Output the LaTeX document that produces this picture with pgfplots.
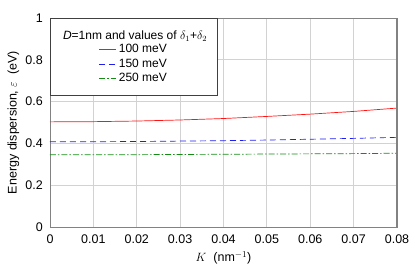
\documentclass[border=0pt]{standalone}
\usepackage{fontspec}
\setmainfont{Liberation Sans}
\usepackage{pgfplots}
\pgfplotsset{compat=1.18}
\definecolor{gridgray}{RGB}{210,210,210}
\definecolor{boxgray}{RGB}{130,130,130}
\definecolor{cred}{RGB}{255,20,20}
\definecolor{cblue}{RGB}{30,30,240}
\definecolor{cgreen}{RGB}{20,140,20}
\begin{document}
\fontsize{12}{14}\selectfont
\begin{tikzpicture}
\begin{axis}[
  name=ax,
  scale only axis,
  width=347pt, height=209pt,
  xmin=0, xmax=0.08, ymin=0, ymax=1,
  scaled x ticks=false, scaled y ticks=false,
  xtick={0,0.01,0.02,0.03,0.04,0.05,0.06,0.07,0.08},
  xticklabels={0,0.01,0.02,0.03,0.04,0.05,0.06,0.07,0.08},
  ytick={0,0.2,0.4,0.6,0.8,1},
  yticklabels={0,0.2,0.4,0.6,0.8,1},
  /pgf/number format/assume math mode=true,
  major tick length=0pt,
  grid=major,
  major grid style={gridgray, line width=0.8pt},
  axis line style={boxgray, line width=0.8pt},
  tick label style={font=\fontsize{12.5}{14}\selectfont, text=black},
  xticklabel style={yshift=-4pt},
  yticklabel style={xshift=-3pt},
  xlabel={$K$~~(nm$^{-1}$)},
  ylabel={Energy dispersion, $\varepsilon$~~(eV)},
  label style={font=\fontsize{12.5}{14}\selectfont},
  xlabel style={yshift=1pt},
  ylabel style={yshift=-2pt},
  legend style={draw=none, fill=none, at={(rel axis cs:0.242,0.78)}, anchor=center,
    font=\fontsize{12}{14}\selectfont, row sep=0.5pt, inner sep=0pt},
  legend cell align=left,
  clip=false,
]
\addplot[cred, line width=0.7pt] coordinates {
(0,0.503) (0.01,0.504) (0.02,0.507) (0.03,0.512) (0.04,0.519) (0.05,0.529) (0.06,0.540) (0.07,0.553) (0.08,0.569)};
\addlegendentry{100 meV}
\addplot[cblue, line width=0.7pt, dash pattern=on 6pt off 4pt] coordinates {
(0,0.408) (0.01,0.408) (0.02,0.409) (0.03,0.411) (0.04,0.413) (0.05,0.416) (0.06,0.420) (0.07,0.424) (0.08,0.429)};
\addlegendentry{150 meV}
\addplot[cgreen, line width=0.7pt, dash pattern=on 6pt off 2pt on 1.5pt off 2pt] coordinates {
(0,0.346) (0.01,0.346) (0.02,0.346) (0.03,0.347) (0.04,0.348) (0.05,0.349) (0.06,0.350) (0.07,0.351) (0.08,0.353)};
\addlegendentry{250 meV}
\draw[black!75, line width=0.8pt, fill=white] (axis cs:0,1) rectangle (axis cs:0.0385,0.632);
\node[anchor=center] at (axis cs:0.0196,0.915) {\textit{D}=1nm and values of $\delta_1$+$\delta_2$};
\draw[boxgray, line width=1.6pt] (rel axis cs:1,0) -- (rel axis cs:1,1);
\end{axis}
\pgfresetboundingbox
\path[use as bounding box] ([shift={(-50pt,-42pt)}]ax.south west) rectangle ([shift={(22pt,18pt)}]ax.north east);
\end{tikzpicture}
\end{document}
